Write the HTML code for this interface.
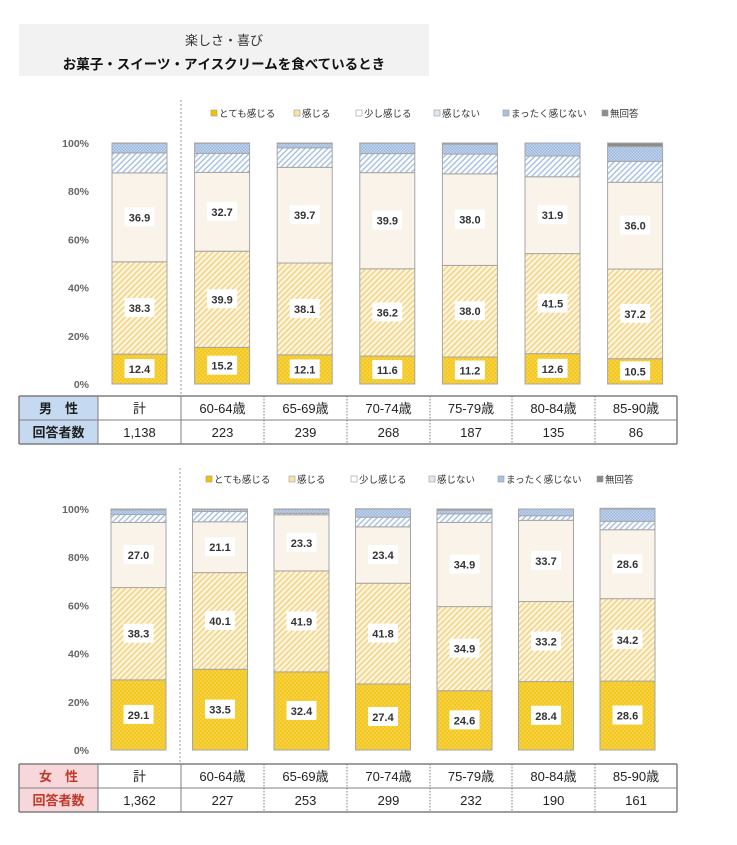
<!DOCTYPE html>
<html><head><meta charset="utf-8">
<style>
body{margin:0;background:#fff;font-family:"Liberation Sans","Noto Sans CJK JP",sans-serif;}
svg text{font-family:"Liberation Sans","Noto Sans CJK JP",sans-serif;}
</style></head>
<body>
<svg id="root" width="737" height="840" viewBox="0 0 737 840" xmlns="http://www.w3.org/2000/svg">
<defs>
<pattern id="pVery" width="4" height="4" patternUnits="userSpaceOnUse"><rect width="4" height="4" fill="#f7c81a"/><rect width="2" height="2" fill="#f2d24a"/><rect x="2" y="2" width="2" height="2" fill="#f2d24a"/></pattern>
<pattern id="pFeel" width="4" height="4" patternUnits="userSpaceOnUse" patternTransform="rotate(45)"><rect width="4" height="4" fill="#fff6dd"/><rect width="1.6" height="4" fill="#f3d38a"/></pattern>
<pattern id="pNot" width="4" height="4" patternUnits="userSpaceOnUse" patternTransform="rotate(45)"><rect width="4" height="4" fill="#ffffff"/><rect width="1.5" height="4" fill="#a9c3e4"/></pattern>
<pattern id="pNever" width="3" height="3" patternUnits="userSpaceOnUse"><rect width="3" height="3" fill="#c5d7ee"/><rect width="1.5" height="1.5" fill="#9ab6dc"/><rect x="1.5" y="1.5" width="1.5" height="1.5" fill="#9ab6dc"/></pattern>
</defs>
<rect x="19" y="24" width="410" height="52" fill="#f2f2f2"/>
<text x="224" y="45" text-anchor="middle" font-size="13" fill="#333">楽しさ・喜び</text>
<text x="224" y="69" text-anchor="middle" font-size="13.5" font-weight="bold" fill="#111">お菓子・スイーツ・アイスクリームを食べているとき</text>
</svg>
<script>
const categories=['計','60-64歳','65-69歳','70-74歳','75-79歳','80-84歳','85-90歳'];
const seriesNames=['とても感じる','感じる','少し感じる','感じない','まったく感じない','無回答'];
const maleVery=[12.4,15.2,12.1,11.6,11.2,12.6,10.5];
const maleFeel=[38.3,39.9,38.1,36.2,38.0,41.5,37.2];
const maleLittle=[36.9,32.7,39.7,39.9,38.0,31.9,36.0];
const maleNot=[8.3,7.9,8.1,7.9,8.2,8.6,8.7];
const maleNever=[4.0,4.2,1.8,4.3,4.1,5.4,6.1];
const maleNA=[0.1,0.1,0.2,0.1,0.5,0,1.5];
const maleN=['1,138','223','239','268','187','135','86'];
const femVery=[29.1,33.5,32.4,27.4,24.6,28.4,28.6];
const femFeel=[38.3,40.1,41.9,41.8,34.9,33.2,34.2];
const femLittle=[27.0,21.1,23.3,23.4,34.9,33.7,28.6];
const femNot=[3.3,4.3,0.6,4.0,3.6,1.9,3.5];
const femNever=[2.0,0.8,1.6,3.4,1.5,2.8,5.1];
const femNA=[0.3,0.2,0.2,0.1,0.5,0,0.3];
const femN=['1,362','227','253','299','232','190','161'];
const yTicks=[0,20,40,60,80,100];

const NS='http://www.w3.org/2000/svg';
const root=document.getElementById('root');
function el(tag,attrs,parent){const e=document.createElementNS(NS,tag);for(const k in attrs)e.setAttribute(k,attrs[k]);(parent||root).appendChild(e);return e;}
const fills=['url(#pVery)','url(#pFeel)','#faf3ea','url(#pNot)','url(#pNever)','#8c8c8c'];
const legendFills=['#f2c200','#f8e3a8','#ffffff','#dde8f5','#a9c3e4','#8c8c8c'];

function drawChart(cfg){
  const g=el('g',{});
  
  
  const yScale=v=>cfg.y0-(cfg.y0-cfg.y100)*v/100;
  const xScale=i=>cfg.x0+i*cfg.step;
  yTicks.forEach(t=>{
    const tx=el('text',{x:89,y:yScale(t)+4,'text-anchor':'end','font-size':10.5,'font-weight':'bold',fill:'#666'},g);
    tx.textContent=t+'%';
    
    
  });
  const dl=el('line',{x1:cfg.divX,y1:cfg.divTop,x2:cfg.divX,y2:cfg.tableY,stroke:'#999','stroke-dasharray':'2,2','stroke-width':1},g);
  
  
  cfg.legendX.forEach((lx,k)=>{
    const r=el('rect',{x:lx,y:cfg.legendY-7,width:6,height:6,fill:legendFills[k],stroke:'#999','stroke-width':0.6},g);
    
    
    const t=el('text',{x:lx+8,y:cfg.legendY,'font-size':9.5,fill:'#333'},g);
    t.textContent=seriesNames[k];
    
    
  });
  const bw=55;
  categories.forEach((c,i)=>{
    let acc=0;
    const x=xScale(i);
    cfg.series.forEach((arr,k)=>{
      const v=arr[i];
      if(v<=0){return;}
      const yTop=yScale(acc+v), yBot=yScale(acc);
      const r=el('rect',{x:x,y:yTop,width:bw,height:Math.max(0,yBot-yTop),fill:fills[k],stroke:'#a6a6a6','stroke-width':1},g);
      
      
      if(k<3){
        const cy=(yTop+yBot)/2;
        const lb=el('rect',{x:x+bw/2-15,y:cy-10,width:30,height:19,fill:'#fff'},g);
        
        
        const t=el('text',{x:x+bw/2,y:cy+4,'text-anchor':'middle','font-size':11,'font-weight':'bold',fill:'#333'},g);
        t.textContent=v.toFixed(1);
        
        
      }
      acc+=v;
    });
  });
  const ty=cfg.tableY, rh=24;
  const cols=[19,98,181,264,347,430,512,595,677];
  const hb=el('rect',{x:19,y:ty,width:79,height:rh*2,fill:cfg.headBg},g);
  
  
  for(let r=0;r<=2;r++){
    const ln=el('line',{x1:19,y1:ty+r*rh,x2:677,y2:ty+r*rh,stroke:'#7f7f7f','stroke-width':r===1?1:1.5},g);
    
    
  }
  cols.forEach((cx,j)=>{
    const dash=(j>=3&&j<=7)?'1.5,1.5':'none';
    const ln=el('line',{x1:cx,y1:ty,x2:cx,y2:ty+rh*2,stroke:'#7f7f7f','stroke-width':(j===0||j===8)?1.5:1,'stroke-dasharray':dash},g);
    
    
  });
  const h1=el('text',{x:58.5,y:ty+17,'text-anchor':'middle','font-size':13,'font-weight':'bold',fill:cfg.headColor},g);
  h1.textContent=cfg.gender;
  
  
  const h2=el('text',{x:58.5,y:ty+rh+17,'text-anchor':'middle','font-size':13,'font-weight':'bold',fill:cfg.headColor},g);
  h2.textContent='回答者数';
  
  
  categories.forEach((c,i)=>{
    const cx=(cols[i+1]+cols[i+2])/2;
    const t=el('text',{x:cx,y:ty+17,'text-anchor':'middle','font-size':13,fill:'#222'},g);
    t.textContent=c;
    
    
    const n=el('text',{x:cx,y:ty+rh+17,'text-anchor':'middle','font-size':13,fill:'#222'},g);
    n.textContent=cfg.n[i];
    
    
  });
}

drawChart({name:'male-chart',x0:112,step:82.6,y0:384,y100:143,divX:181,divTop:100,tableY:396,
  legendY:117,legendX:[211,294,356,434,503,602],
  series:[maleVery,maleFeel,maleLittle,maleNot,maleNever,maleNA],n:maleN,
  gender:'男　性',headBg:'#c5d9f1',headColor:'#1f1f1f'});
drawChart({name:'female-chart',x0:111,step:81.5,y0:750,y100:509,divX:180,divTop:468,tableY:764,
  legendY:483,legendX:[206,289,351,429,498,597],
  series:[femVery,femFeel,femLittle,femNot,femNever,femNA],n:femN,
  gender:'女　性',headBg:'#f8d7da',headColor:'#c0392b'});
</script>
</body></html>
